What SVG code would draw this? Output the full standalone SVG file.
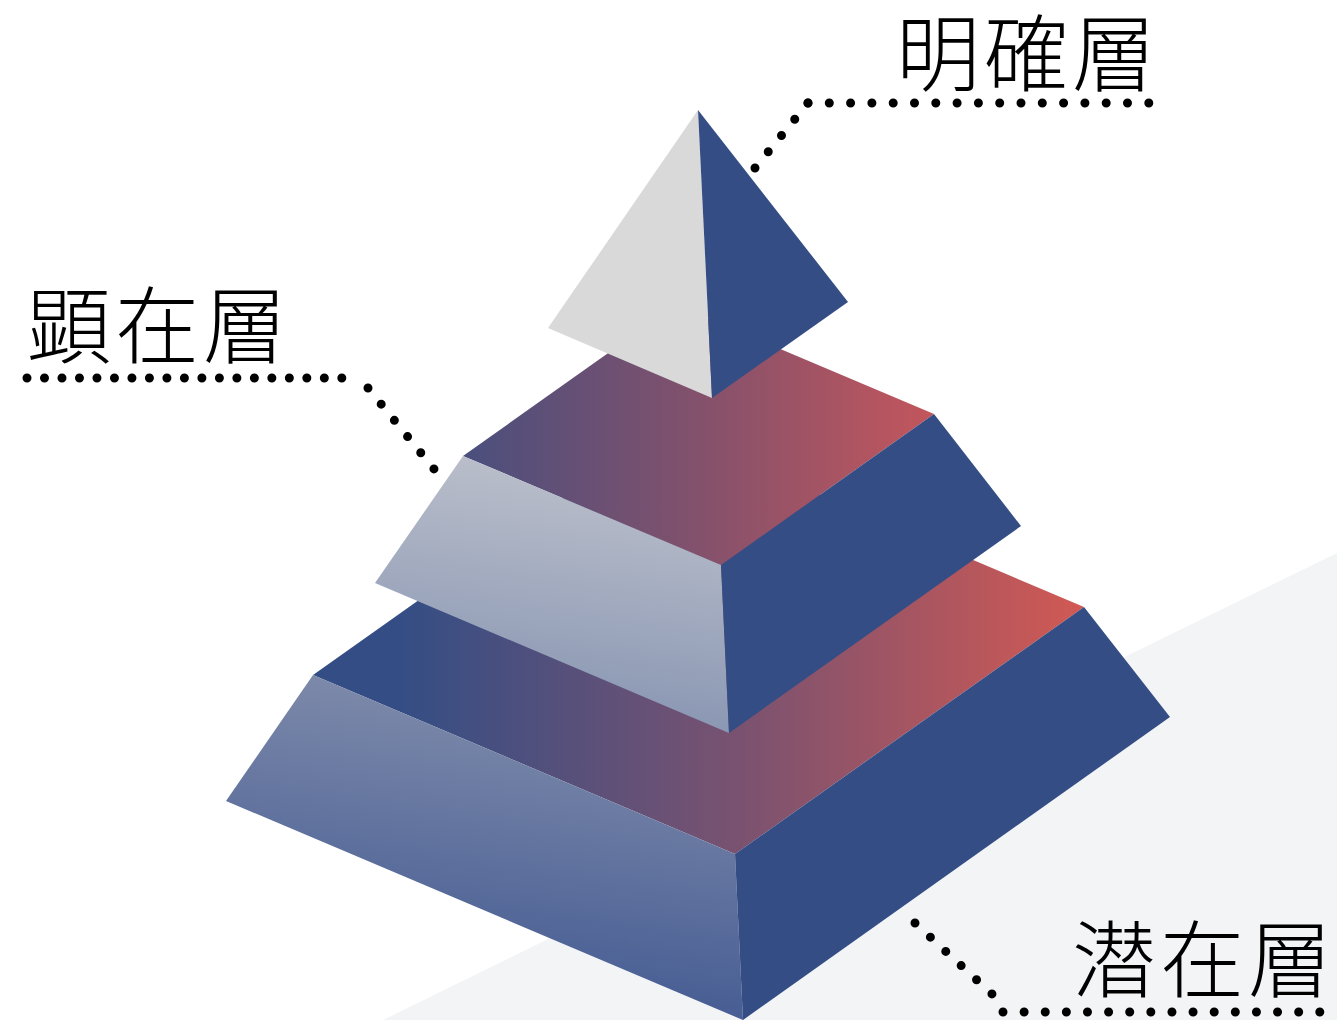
<svg xmlns="http://www.w3.org/2000/svg" width="1337" height="1020" viewBox="0 0 1337 1020">
<defs>
<style>
.blue{fill:#344e85}
.label{font-family:"Noto Sans CJK JP","Noto Sans CJK SC",sans-serif;font-size:84px;font-weight:300;fill:#000;letter-spacing:4px}
.dots{fill:none;stroke:#000;stroke-width:9;stroke-linecap:round}
</style>
<linearGradient id="gTopBottom" gradientUnits="userSpaceOnUse" x1="400" y1="0" x2="1084" y2="0">
<stop offset="0" stop-color="#344e85"/>
<stop offset="0.5" stop-color="#7a5270"/>
<stop offset="1" stop-color="#d25953"/>
</linearGradient>
<linearGradient id="gTopMiddle" gradientUnits="userSpaceOnUse" x1="463" y1="0" x2="934" y2="0">
<stop offset="0" stop-color="#4a4f7d"/>
<stop offset="0.5" stop-color="#83516c"/>
<stop offset="1" stop-color="#c3565c"/>
</linearGradient>
<linearGradient id="gLeftMiddle" gradientUnits="userSpaceOnUse" x1="560" y1="456" x2="520" y2="733">
<stop offset="0" stop-color="#bcc0cb"/>
<stop offset="1" stop-color="#8593b1"/>
</linearGradient>
<linearGradient id="gLeftBottom" gradientUnits="userSpaceOnUse" x1="450" y1="675" x2="400" y2="1020">
<stop offset="0" stop-color="#808cab"/>
<stop offset="1" stop-color="#3e5690"/>
</linearGradient>
</defs>
<rect width="1337" height="1020" fill="#ffffff"/>
<polygon points="1337,553 1337,1020 383,1020" fill="#f3f4f6"/>
<g id="layer-bottom">
<polygon points="313,675 662,428 1084,607 735,854" fill="url(#gTopBottom)"/>
<polygon points="313,675 226,801 743,1020 735,854" fill="url(#gLeftBottom)"/>
<polygon class="blue" points="735,854 1084,607 1170,717 743,1020"/>
</g>
<g id="layer-middle">
<polygon points="463,456 676,305 934,414 721,565" fill="url(#gTopMiddle)"/>
<polygon points="463,456 375,583 729,733 721,565" fill="url(#gLeftMiddle)"/>
<polygon class="blue" points="721,565 934,414 1021,526 729,733"/>
</g>
<g id="layer-top">
<polygon points="698,110 548,328 712,398" fill="#d9d9d9"/>
<polygon class="blue" points="698,110 712,398 848,302"/>
</g>
<g id="connectors">
<path class="dots" d="M755 168 L808 103" stroke-dasharray="0 20.96"/>
<path class="dots" d="M808 103 H1149" stroke-dasharray="0 21.3"/>
<path class="dots" d="M27 378 H342" stroke-dasharray="0 17.49"/>
<path class="dots" d="M368 388 L434 469" stroke-dasharray="0 20.88"/>
<path class="dots" d="M915 923 L992 994" stroke-dasharray="0 20.93"/>
<path class="dots" d="M1003 1012 H1320" stroke-dasharray="0 21.12"/>
</g>
<g id="label-top"><text class="label" x="896" y="85">明確層</text></g>
<g id="label-middle"><text class="label" x="27" y="357">顕在層</text></g>
<g id="label-bottom"><text class="label" x="1072" y="991">潜在層</text></g>
</svg>
